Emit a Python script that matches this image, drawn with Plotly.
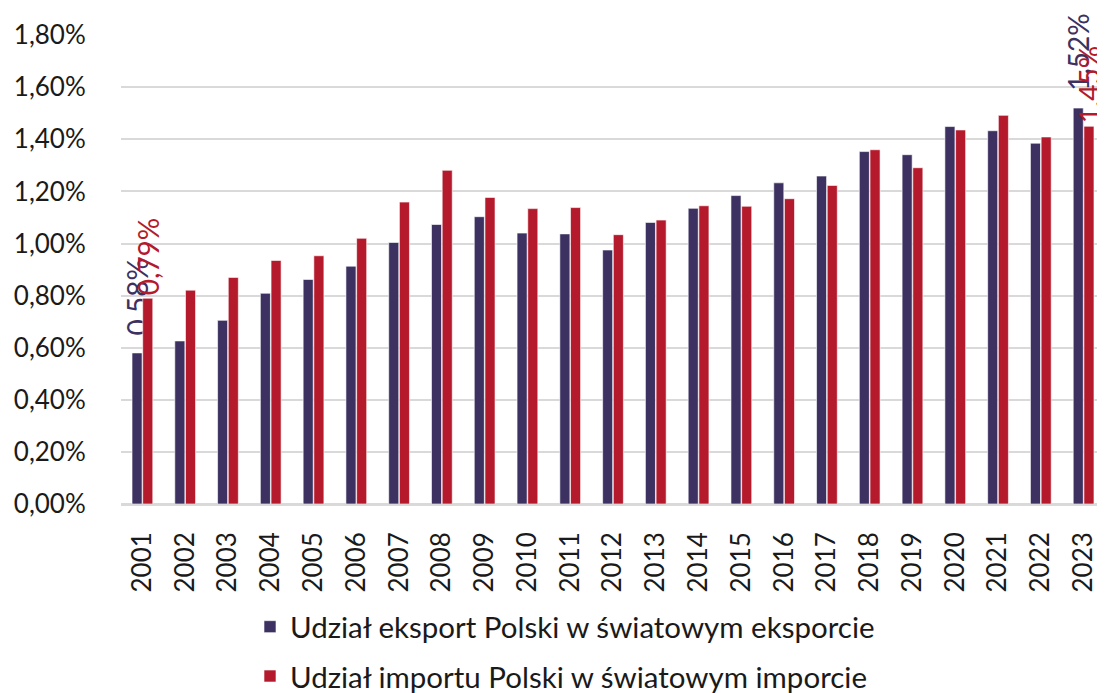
import plotly.graph_objects as go

years = [str(y) for y in range(2001, 2024)]
export_share = [0.58, 0.626, 0.705, 0.809, 0.862, 0.913, 1.004, 1.073, 1.103, 1.040,
                1.037, 0.975, 1.081, 1.135, 1.184, 1.233, 1.259, 1.353, 1.341, 1.449,
                1.433, 1.385, 1.52]
import_share = [0.79, 0.821, 0.870, 0.935, 0.953, 1.020, 1.159, 1.281, 1.177, 1.134,
                1.138, 1.034, 1.090, 1.145, 1.143, 1.172, 1.223, 1.360, 1.291, 1.436,
                1.492, 1.409, 1.45]
y_ticks = [0.0, 0.2, 0.4, 0.6, 0.8, 1.0, 1.2, 1.4, 1.6, 1.8]
labeled_years = ["2001", "2023"]
series_names = ["Udział eksport Polski w światowym eksporcie",
                "Udział importu Polski w światowym imporcie"]
colors = ["#3C3160", "#B41A2C"]
label_pad = ["\u00a0\u00a0", ""]

FONT = "Lato"

# page body has an 8px margin, so the figure is 16px smaller than the window
W, H = 1097, 685


def pct(v):
    return f"{v:.2f}%".replace(".", ",")


def labels(vals, pad):
    return [(pad + pct(v) if y in labeled_years else "") for y, v in zip(years, vals)]


fig = go.Figure()
for i, (name, vals) in enumerate(zip(series_names, [export_share, import_share])):
    fig.add_trace(go.Bar(
        x=years, y=vals, name=name,
        marker=dict(color=colors[i], line=dict(color="white", width=0.6)),
        text=labels(vals, label_pad[i]), textposition="outside", textangle=-90,
        textfont=dict(family=FONT, size=28, color=colors[i]),
        constraintext="none", cliponaxis=False,
        legendgroup=f"g{i}", hoverinfo="x+y",
    ))

fig.update_layout(
    width=W, height=H,
    margin=dict(l=113, r=0, t=27, b=189, autoexpand=False),
    paper_bgcolor="white", plot_bgcolor="white",
    barmode="group", bargap=0.5, bargroupgap=0.06,
    font=dict(family=FONT, size=26, color="#1a1a1a"),
    showlegend=True,
    legend=dict(
        orientation="v", xref="container", yref="container",
        x=242 / W, y=1 - 593 / H, xanchor="left", yanchor="top",
        font=dict(family=FONT, size=29.5, color="#1a1a1a"),
        tracegroupgap=8, itemwidth=30, bgcolor="rgba(0,0,0,0)",
    ),
)
fig.update_yaxes(
    range=[0, 1.8005], tickmode="array", tickvals=y_ticks,
    ticktext=[pct(v) for v in y_ticks],
    showgrid=True, gridcolor="#D9D9D9", gridwidth=1.5,
    zeroline=True, zerolinecolor="#D9D9D9", zerolinewidth=1.5,
    ticks="outside", ticklen=29, tickcolor="rgba(0,0,0,0)", automargin=False,
    tickfont=dict(family=FONT, size=26, color="#1a1a1a"),
)
fig.update_xaxes(
    type="category", tickangle=-90, showgrid=False,
    showline=True, linecolor="#D9D9D9", linewidth=1.5,
    ticks="outside", ticklen=16, tickcolor="rgba(0,0,0,0)", automargin=False,
    tickfont=dict(family=FONT, size=26, color="#1a1a1a"),
)

fig.write_html("out.html")
